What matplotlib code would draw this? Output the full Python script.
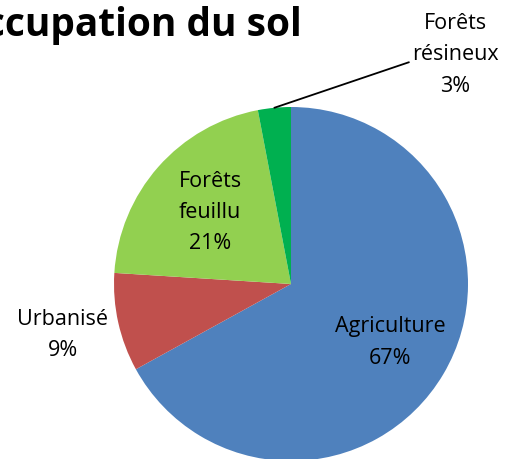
import numpy as np
import matplotlib.pyplot as plt

plt.rcParams['font.family'] = ['Open Sans', 'DejaVu Sans']

labels = ['Agriculture', 'Urbanisé', 'Forêts\nfeuillu', 'Forêts\nrésineux']
values = [67, 9, 21, 3]
colors = ['#4F81BD', '#C0504D', '#92D050', '#00B050']

W, H = 515, 459
cx, cy, R = 291, 284, 177

fig = plt.figure(figsize=(W / 100, H / 100), dpi=100)
ax = fig.add_axes([0, 0, 1, 1])

wedges, _ = ax.pie(values, colors=colors, startangle=90, counterclock=False,
                   radius=1, center=(0, 0), frame=True)
ax.set_xlim(-cx / R, (W - cx) / R)
ax.set_ylim(-(H - cy) / R, cy / R)
ax.set_aspect('equal')
ax.axis('off')

# label distance (in radii) for the inside/outside labels
dist = [0.65, 1.32, 0.61, None]
for w, lab, v, d in zip(wedges, labels, values, dist):
    mid = np.deg2rad((w.theta1 + w.theta2) / 2)
    txt = f"{lab}\n{v}%"
    if d is None:
        edge = (np.cos(mid), np.sin(mid))
        ax.annotate(txt, xy=edge, xytext=(455 / W, 1 - 55 / H), textcoords='figure fraction',
                    ha='center', va='center', fontsize=15.5, linespacing=1.65,
                    arrowprops=dict(arrowstyle='-', color='black', lw=1.3,
                                    relpos=(0, 0.44), shrinkA=0, shrinkB=0,
                                    connectionstyle='angle,angleA=180,angleB=18.7,rad=0'))
    else:
        ax.text(np.cos(mid) * d, np.sin(mid) * d, txt, ha='center', va='center',
                fontsize=15.5, linespacing=1.65)

fig.text(302 / W, 1 - 36 / H, 'Occupation du sol', ha='right', va='baseline',
         fontsize=28, fontweight='bold')

fig.savefig('out.png', dpi=100)
